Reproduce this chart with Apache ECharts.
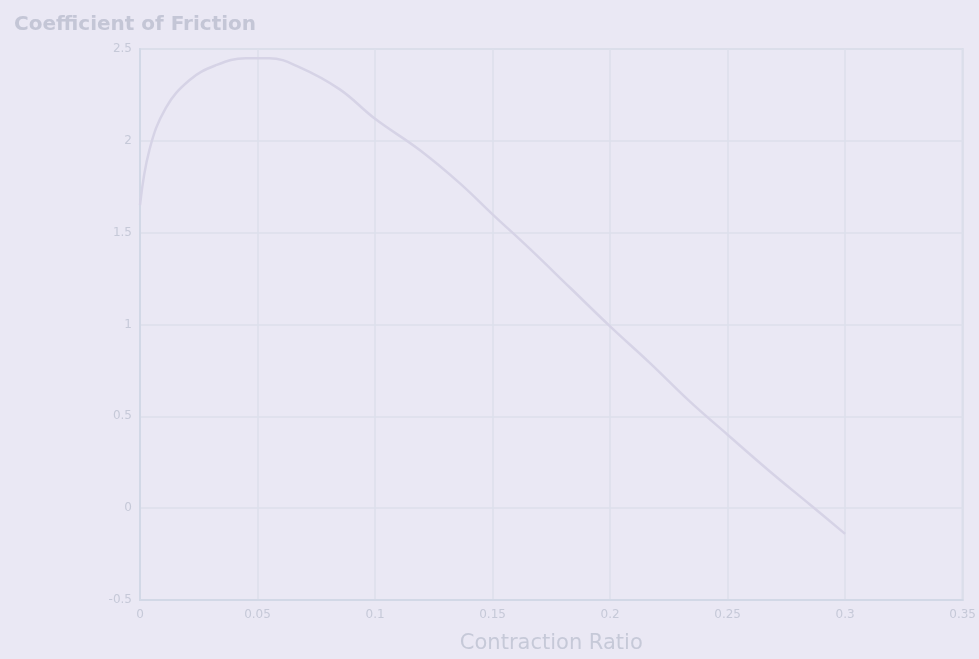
<!DOCTYPE html>
<html>
<head>
<meta charset="utf-8">
<script src="https://cdn.jsdelivr.net/npm/echarts@6/dist/echarts.min.js"></script>
<style>
html,body{margin:0;padding:0;background:#eae8f4;overflow:hidden;width:979px;height:659px;}
#chart{width:979px;height:659px;}
</style>
</head>
<body>
<div id="chart"></div>
<script>
const titleText = "Coefficient of Friction";
const xAxisName = "Contraction Ratio";
const ratio = [0, 0.004, 0.011, 0.021, 0.032, 0.045, 0.055, 0.068, 0.085, 0.1, 0.119, 0.136, 0.15, 0.166, 0.183, 0.2, 0.217, 0.234, 0.25, 0.268, 0.285, 0.3];
const friction = [1.65, 1.95, 2.18, 2.33, 2.41, 2.45, 2.45, 2.40, 2.28, 2.12, 1.95, 1.77, 1.60, 1.41, 1.20, 0.99, 0.79, 0.58, 0.40, 0.20, 0.02, -0.14];

const chart = echarts.init(document.getElementById('chart'));
const textColor = '#c6c9d8';
const gridColor = '#dcdfeb';
chart.setOption({
  backgroundColor: '#eae8f4',
  animation: false,
  title: {
    text: titleText, left: 9, top: 10,
    textStyle: {color: '#c4c6d6', fontSize: 20, fontWeight: 'bold', fontFamily: 'DejaVu Sans'}
  },
  grid: {left: 140, right: 13, top: 49, bottom: 49, show: true, borderColor: '#d6dbe8', borderWidth: 2},
  xAxis: {
    type: 'value', min: 0, max: 0.35, interval: 0.05,
    name: xAxisName, nameLocation: 'middle', nameGap: 33,
    nameTextStyle: {color: textColor, fontSize: 21, fontFamily: 'DejaVu Sans'},
    axisLine: {onZero: false, lineStyle: {color: '#d2d8e6', width: 2}},
    axisTick: {show: false},
    axisLabel: {color: textColor, fontSize: 12, margin: 9, fontFamily: 'DejaVu Sans'},
    splitLine: {lineStyle: {color: gridColor, width: 1.5}}
  },
  yAxis: {
    type: 'value', min: -0.5, max: 2.5, interval: 0.5,
    axisLine: {show: true, lineStyle: {color: '#d2d8e6', width: 2}},
    axisTick: {show: false},
    axisLabel: {color: textColor, fontSize: 12, margin: 8, fontFamily: 'DejaVu Sans'},
    splitLine: {lineStyle: {color: gridColor, width: 1.5}}
  },
  series: [{
    type: 'line', smooth: 0.4, showSymbol: false,
    data: ratio.map((x, i) => [x, friction[i]]),
    lineStyle: {color: '#d6d3e6', width: 2.5}
  }]
});
</script>
</body>
</html>
